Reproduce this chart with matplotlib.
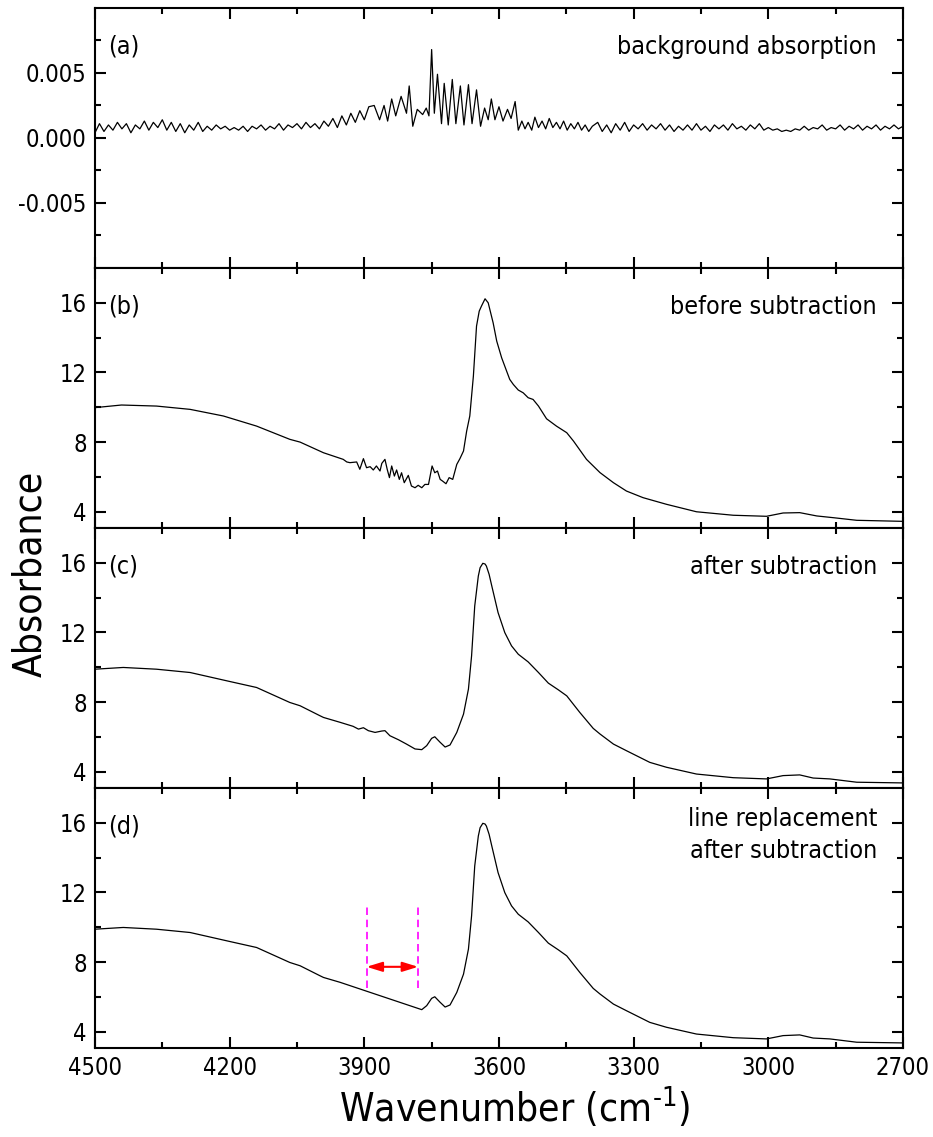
import matplotlib
matplotlib.use("Agg")
import matplotlib.pyplot as plt
from matplotlib.ticker import FixedLocator, MultipleLocator, FormatStrFormatter
import numpy as np

plt.rcParams['font.family'] = ['DejaVu Sans']
plt.rcParams['font.stretch'] = 'condensed'
plt.rcParams['axes.unicode_minus'] = False
plt.rcParams['mathtext.fontset'] = 'custom'
plt.rcParams['mathtext.rm'] = 'DejaVu Sans:stretch=condensed'

# (a) background absorption, three pieces (left edge, water lines, right edge)
a_left_wn = list(range(4500, 3880, -10))
a_left_val = [0.0004, 0.0011, 0.0005, 0.0010, 0.0006, 0.0012, 0.0007, 0.0011, 0.0004, 0.0010,
              0.0007, 0.0013, 0.0006, 0.0012, 0.0008, 0.0014, 0.0006, 0.0012, 0.0005, 0.0011,
              0.0004, 0.0010, 0.0006, 0.0012, 0.0005, 0.0009, 0.0006, 0.0010, 0.0007, 0.0009,
              0.0006, 0.0008, 0.0006, 0.0009, 0.0005, 0.0009, 0.0007, 0.0010, 0.0006, 0.0009,
              0.0007, 0.0011, 0.0006, 0.0010, 0.0008, 0.0011, 0.0007, 0.0012, 0.0008, 0.0011,
              0.0007, 0.0013, 0.0009, 0.0015, 0.0008, 0.0017, 0.0010, 0.0019, 0.0012, 0.0021,
              0.0014, 0.0024]
a_mid_wn = [3878, 3866, 3856, 3848, 3839, 3830, 3818, 3806, 3800, 3792,
            3782, 3770, 3762, 3756, 3750, 3744, 3737, 3728, 3722, 3713,
            3704, 3696, 3686, 3678, 3668, 3660, 3650, 3641, 3632, 3624,
            3617, 3609, 3600, 3591, 3581, 3573, 3564, 3557, 3549, 3542,
            3535, 3527, 3520, 3512, 3504, 3496, 3488, 3480, 3472, 3464,
            3456, 3448, 3440, 3432, 3424, 3416, 3408, 3400, 3392]
a_mid_val = [0.0025, 0.0014, 0.0025, 0.0013, 0.0030, 0.0017, 0.0032, 0.0019, 0.0040, 0.0009,
             0.0022, 0.0018, 0.0023, 0.0017, 0.0068, 0.0019, 0.0049, 0.0011, 0.0042, 0.0010,
             0.0045, 0.0011, 0.0040, 0.0010, 0.0041, 0.0011, 0.0037, 0.0009, 0.0023, 0.0014,
             0.0030, 0.0014, 0.0024, 0.0013, 0.0022, 0.0015, 0.0028, 0.0006, 0.0013, 0.0007,
             0.0012, 0.0006, 0.0016, 0.0008, 0.0013, 0.0007, 0.0015, 0.0008, 0.0012, 0.0007,
             0.0013, 0.0006, 0.0011, 0.0007, 0.0012, 0.0006, 0.0010, 0.0005, 0.0009]
a_right_wn = list(range(3380, 2690, -10))
a_right_val = [0.0012, 0.0005, 0.0010, 0.0004, 0.0011, 0.0006, 0.0012, 0.0005, 0.0010, 0.0007,
               0.0011, 0.0006, 0.0010, 0.0007, 0.0011, 0.0006, 0.0010, 0.0005, 0.0009, 0.0006,
               0.0010, 0.0006, 0.0011, 0.0006, 0.0009, 0.0005, 0.0010, 0.0007, 0.0010, 0.0006,
               0.0011, 0.0007, 0.0009, 0.0006, 0.0010, 0.0007, 0.0011, 0.0006, 0.0008, 0.0006,
               0.0007, 0.0005, 0.0006, 0.0005, 0.0007, 0.0006, 0.0009, 0.0006, 0.0008, 0.0007,
               0.0010, 0.0006, 0.0008, 0.0007, 0.0010, 0.0006, 0.0009, 0.0007, 0.0010, 0.0006,
               0.0009, 0.0007, 0.0010, 0.0006, 0.0009, 0.0007, 0.0010, 0.0007, 0.0009]

# (b) before subtraction
b_wn = [4500, 4441, 4363, 4288, 4214, 4140, 4066, 4043, 3991, 3947,
        3939, 3932, 3917, 3910, 3902, 3895, 3887, 3880, 3873, 3865,
        3861, 3854, 3849, 3844, 3839, 3833, 3828, 3822, 3817, 3811,
        3802, 3795, 3787, 3780, 3772, 3765, 3757, 3749, 3743, 3737,
        3731, 3726, 3718, 3711, 3703, 3694, 3687, 3679, 3672, 3665,
        3657, 3650, 3644, 3639, 3631, 3624, 3613, 3605, 3594, 3583,
        3576, 3568, 3557, 3546, 3535, 3524, 3512, 3494, 3472, 3449,
        3434, 3405, 3375, 3345, 3316, 3279, 3227, 3160, 3078, 3004,
        2967, 2930, 2892, 2855, 2803, 2700]
b_val = [9.98, 10.13, 10.07, 9.88, 9.50, 8.92, 8.16, 8.00, 7.39, 7.01,
         6.86, 6.82, 6.86, 6.44, 7.05, 6.53, 6.59, 6.40, 6.63, 6.34,
         6.78, 7.01, 6.44, 5.96, 6.63, 6.05, 6.40, 5.86, 6.24, 5.67,
         6.09, 5.48, 5.38, 5.52, 5.38, 5.57, 5.57, 6.63, 6.24, 6.34,
         5.86, 5.77, 5.61, 5.96, 5.86, 6.72, 7.05, 7.49, 8.63, 9.50,
         11.79, 14.66, 15.52, 15.81, 16.23, 16.00, 14.85, 13.80, 12.84, 12.08,
         11.60, 11.31, 10.99, 10.83, 10.55, 10.45, 10.07, 9.34, 8.92, 8.54,
         8.06, 7.01, 6.25, 5.67, 5.19, 4.81, 4.43, 4.00, 3.80, 3.74,
         3.93, 3.95, 3.76, 3.66, 3.51, 3.45]

# (c) after subtraction
c_wn = [4500, 4437, 4363, 4288, 4199, 4140, 4066, 4043, 3999, 3991,
        3954, 3925, 3913, 3902, 3891, 3876, 3861, 3854, 3843, 3824,
        3806, 3787, 3772, 3761, 3750, 3743, 3731, 3720, 3709, 3694,
        3679, 3668, 3661, 3654, 3646, 3642, 3636, 3631, 3628, 3622,
        3616, 3602, 3587, 3572, 3557, 3535, 3512, 3490, 3468, 3449,
        3420, 3390, 3375, 3345, 3316, 3264, 3227, 3160, 3078, 3004,
        2967, 2930, 2900, 2863, 2803, 2700]
c_val = [9.89, 9.99, 9.89, 9.70, 9.18, 8.84, 7.98, 7.79, 7.22, 7.12,
         6.84, 6.61, 6.45, 6.53, 6.36, 6.26, 6.34, 6.36, 6.07, 5.84,
         5.59, 5.31, 5.27, 5.50, 5.92, 6.01, 5.69, 5.42, 5.54, 6.26,
         7.31, 8.75, 10.66, 13.52, 15.24, 15.72, 15.97, 15.93, 15.81, 15.34,
         14.67, 13.14, 11.99, 11.23, 10.75, 10.31, 9.70, 9.09, 8.71, 8.36,
         7.41, 6.49, 6.17, 5.59, 5.21, 4.54, 4.26, 3.87, 3.66, 3.59,
         3.78, 3.82, 3.64, 3.59, 3.40, 3.36]

# (d) same as (c) but with the 3950-3775 stretch replaced by a straight line
c_wn_arr = np.array(c_wn)
keep = (c_wn_arr >= 3950) | (c_wn_arr <= 3773)
d_wn = c_wn_arr[keep]
d_val = np.array(c_val)[keep]

repl_left = 3895
repl_right = 3780
repl_lo, repl_hi = 6.49, 11.42
arrow_y = 7.73

labels = ["(a)", "(b)", "(c)", "(d)"]
notes = ["background absorption", "before subtraction", "after subtraction",
         "line replacement\nafter subtraction"]

fig = plt.figure(figsize=(9.33, 11.37), dpi=100)
gs = fig.add_gridspec(4, 1, hspace=0, left=0.1018, right=0.9678,
                      bottom=0.0783, top=0.993)
axes = [fig.add_subplot(gs[i]) for i in range(4)]

axes[0].plot(a_left_wn + a_mid_wn + a_right_wn, a_left_val + a_mid_val + a_right_val,
             color='black', lw=0.9)
axes[1].plot(b_wn, b_val, color='black', lw=0.9)
axes[2].plot(c_wn, c_val, color='black', lw=0.9)
axes[3].plot(d_wn, d_val, color='black', lw=0.9)

ax = axes[3]
for xv in (repl_left, repl_right):
    ax.plot([xv, xv], [repl_lo, repl_hi], color='#ff00ff', lw=1.2, ls=(0, (4.5, 2.8)))
ax.annotate('', xy=(repl_right, arrow_y), xytext=(repl_left, arrow_y),
            arrowprops=dict(arrowstyle='<|-|>,head_length=0.55,head_width=0.17',
                            color='red', lw=1.5, mutation_scale=17,
                            shrinkA=0, shrinkB=0))

for i, ax in enumerate(axes):
    ax.set_xlim(4500, 2700)
    ax.xaxis.set_major_locator(MultipleLocator(300))
    ax.xaxis.set_minor_locator(MultipleLocator(150))
    if i == 0:
        ax.set_ylim(-0.01, 0.01)
        ax.yaxis.set_major_locator(FixedLocator([-0.005, 0.0, 0.005]))
        ax.yaxis.set_minor_locator(FixedLocator([-0.0075, -0.0025, 0.0025, 0.0075]))
        ax.yaxis.set_major_formatter(FormatStrFormatter('%.3f'))
    else:
        ax.set_ylim(3.07, 18)
        ax.yaxis.set_major_locator(FixedLocator([4, 8, 12, 16]))
        ax.yaxis.set_minor_locator(FixedLocator([6, 10, 14]))
        ax.yaxis.set_major_formatter(FormatStrFormatter('%d'))
    ax.tick_params(which='both', direction='in', top=True, right=True,
                   width=1.5, labelsize=17)
    ax.tick_params(which='major', length=8, pad=6)
    ax.tick_params(which='minor', length=4.5)
    if i < 3:
        ax.tick_params(labelbottom=False)
    for s in ax.spines.values():
        s.set_linewidth(1.5)
    ax.text(0.016, 0.85, labels[i], transform=ax.transAxes, fontsize=18,
            ha='left', va='center')
    if i < 3:
        ax.text(0.968, 0.85, notes[i], transform=ax.transAxes, fontsize=18,
                ha='right', va='center')
    else:
        ax.text(0.968, 0.82, notes[i], transform=ax.transAxes, fontsize=18,
                ha='right', va='center', linespacing=1.4)

fig.text(30 / 933, 1 - 574 / 1137, 'Absorbance', rotation=90, fontsize=28,
         ha='center', va='center')
fig.text(515 / 933, 1 - 1107 / 1137, r'Wavenumber (cm$^{\text{-1}}$)', fontsize=28,
         ha='center', va='center')

fig.savefig('out.png', dpi=100)
